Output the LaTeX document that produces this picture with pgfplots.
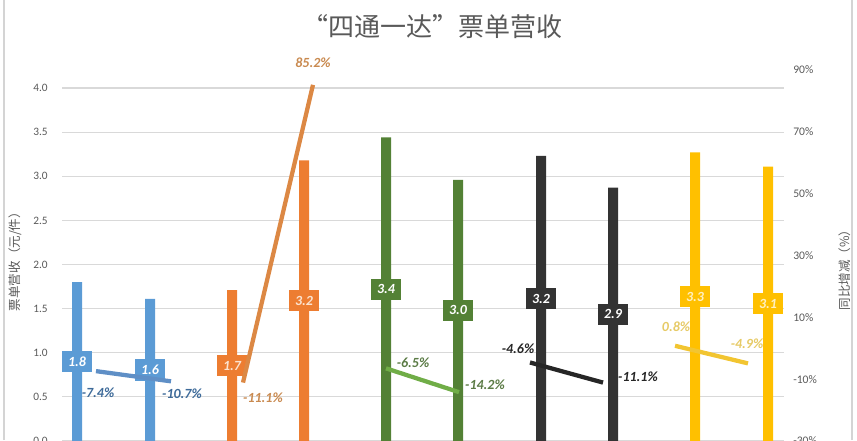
\documentclass[border=0pt]{standalone}
\usepackage{pgfplots}
\pgfplotsset{compat=1.18}
\usepackage{fontspec}
\setmainfont{Carlito}
\newfontfamily\cjk{Noto Sans CJK SC}
\definecolor{cblue}{HTML}{5B9BD5}
\definecolor{lblue}{HTML}{5F8FC6}
\definecolor{pblue}{HTML}{3D6A99}
\definecolor{corange}{HTML}{ED7D31}
\definecolor{lorange}{HTML}{DC8844}
\definecolor{porange}{HTML}{C98A50}
\definecolor{torange}{HTML}{FBE3D0}
\definecolor{cgreen}{HTML}{538135}
\definecolor{lgreen}{HTML}{70AD47}
\definecolor{pgreen}{HTML}{5B7B45}
\definecolor{cblack}{HTML}{333333}
\definecolor{lblack}{HTML}{262626}
\definecolor{pblack}{HTML}{262626}
\definecolor{cyellow}{HTML}{FFC000}
\definecolor{lyellow}{HTML}{F2C531}
\definecolor{pyellow}{HTML}{E6CA66}
\definecolor{tyellow}{HTML}{FFF0C0}
\definecolor{gridc}{HTML}{D9D9D9}
\definecolor{tickc}{HTML}{595959}
\definecolor{titlec}{HTML}{595959}
\definecolor{framec}{HTML}{D4D4D4}
\begin{document}
\begin{tikzpicture}
\pgfplotsset{
  base/.style={scale only axis, width=541.5pt, xmin=62, xmax=784,
    at={(46.5pt,-0.75pt)}, anchor=south west,
    axis line style={draw=none}, major tick length=0pt, xtick=\empty,
    clip=false, /pgf/number format/assume math mode=true},
  vlab/.style={mark=none, draw=none, nodes near coords, point meta=explicit symbolic,
    every node near coord/.append style={anchor=center, fill=#1, text=white,
      font=\bfseries\itshape\fontsize{10.5}{12}\selectfont,
      minimum width=23pt, minimum height=16pt, inner sep=1pt}},
  plab/.style={mark=none, draw=none, nodes near coords, point meta=explicit symbolic,
    every node near coord/.append style={anchor=center, text=#1,
      font=\bfseries\itshape\fontsize{10.5}{12}\selectfont, inner sep=0pt}},
  gline/.style={color=#1, line width=3.2pt, mark=none},
  gbar/.style={ybar, bar width=7.5pt, bar shift=0pt, fill=#1, draw=none}
}
\begin{axis}[base, height=264.75pt, ymin=0, ymax=4,
  ytick={0,0.5,1,1.5,2,2.5,3,3.5,4},
  ymajorgrids, grid style={color=gridc, line width=0.9pt},
  yticklabel style={font=\fontsize{8.5}{10}\selectfont, text=tickc, anchor=east, inner sep=0pt, xshift=-10.5pt,
    /pgf/number format/.cd, fixed, fixed zerofill, precision=1}]
\addplot[gbar=cblue] coordinates {(77,1.80) (150,1.61)};
\addplot[gbar=corange] coordinates {(232,1.71) (304,3.18)};
\addplot[gbar=cgreen] coordinates {(386,3.44) (458,2.96)};
\addplot[gbar=cblack] coordinates {(541,3.23) (613,2.87)};
\addplot[gbar=cyellow] coordinates {(695,3.27) (768,3.11)};
\addplot[vlab=cblue] coordinates {(77,0.90)[1.8] (150,0.805)[1.6]};
\addplot[vlab=corange, every node near coord/.append style={text=torange}] coordinates {(232,0.855)[1.7] (304,1.59)[3.2]};
\addplot[vlab=cgreen] coordinates {(386,1.72)[3.4] (458,1.48)[3.0]};
\addplot[vlab=cblack] coordinates {(541,1.615)[3.2] (613,1.435)[2.9]};
\addplot[vlab=cyellow, every node near coord/.append style={text=tyellow}] coordinates {(695,1.635)[3.3] (768,1.555)[3.1]};
\end{axis}
\begin{axis}[base, height=278.25pt, ymin=-30, ymax=90,
  ytick={-30,-10,10,30,50,70,90}, yticklabel pos=right,
  yticklabel={\pgfmathprintnumber{\tick}\%},
  yticklabel style={font=\fontsize{8.7}{10}\selectfont, text=tickc, anchor=west, inner sep=0pt, xshift=6.75pt}]
\addplot[gline=lblue] coordinates {(96,-7.4) (171,-10.7)};
\addplot[gline=lorange] coordinates {(243,-11.1) (313,85.2)};
\addplot[gline=lgreen] coordinates {(386,-6.5) (459,-14.2)};
\addplot[gline=lblack] coordinates {(530,-4.6) (603,-11.1)};
\addplot[gline=lyellow] coordinates {(675,0.8) (748,-4.9)};
\addplot[plab=pblue] coordinates {(98,-14.4)[-7.4\%] (182,-14.8)[-10.7\%]};
\addplot[plab=porange] coordinates {(263,-16.1)[-11.1\%] (313,92.3)[85.2\%]};
\addplot[plab=pgreen] coordinates {(413,-4.7)[-6.5\%] (485,-11.8)[-14.2\%]};
\addplot[plab=pblack] coordinates {(518,-0.2)[-4.6\%] (638,-9.3)[-11.1\%]};
\addplot[plab=pyellow] coordinates {(676,7.0)[0.8\%] (747,1.5)[-4.9\%]};
\end{axis}
\node[font=\cjk\fontsize{19.5}{21}\selectfont, text=titlec] at (324pt,309.75pt) {“四通一达”票单营收};
\node[font=\cjk\fontsize{9.4}{11}\selectfont, text=titlec, rotate=90] at (11.25pt,136.1pt) {票单营收（元/件）};
\node[font=\cjk\fontsize{9.4}{11}\selectfont, text=titlec, rotate=90] at (633.75pt,129.75pt) {同比增减（\%）};
\draw[framec, line width=0.8pt] (3pt,0pt) -- (3pt,330pt);
\draw[framec, line width=0.8pt] (639pt,0pt) -- (639pt,330pt);
\pgfresetboundingbox
\useasboundingbox (0pt,0pt) rectangle (642.75pt,330pt);
\end{tikzpicture}
\end{document}
